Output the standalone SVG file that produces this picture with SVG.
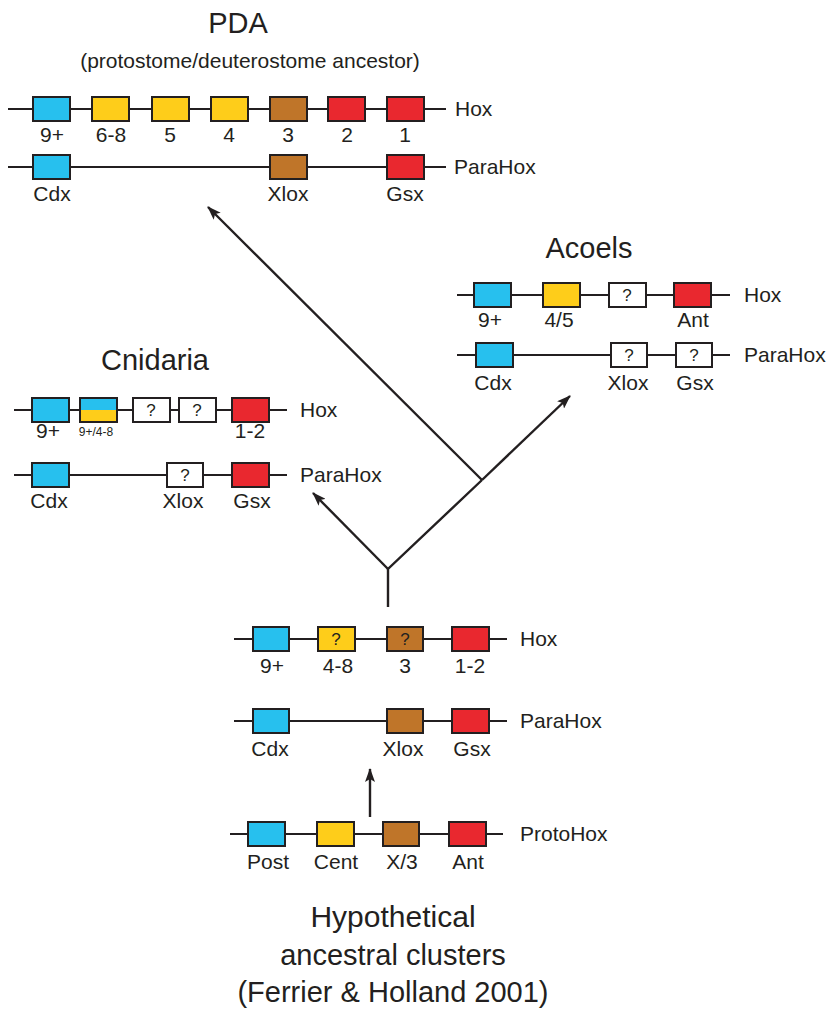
<svg xmlns="http://www.w3.org/2000/svg" width="827" height="1011" viewBox="0 0 827 1011">
<defs>
<style>
text{font-family:"Liberation Sans",Arial,sans-serif;fill:#231f20}
.t{font-size:29px;text-anchor:middle}
.s{font-size:21px;text-anchor:middle}
.l{font-size:21px;text-anchor:middle}
.n{font-size:21px}
.q{font-size:17px;text-anchor:middle}
.ln{stroke:#231f20;stroke-width:2;fill:none}
.bx{stroke:#231f20;stroke-width:2}
.b{fill:#27c0ee}.y{fill:#fecd1a}.o{fill:#bf7529}.r{fill:#e9282f}.w{fill:#fff}
.cn{stroke:#231f20;stroke-width:2.4;fill:none}
</style>
<marker id="ah" viewBox="0 0 14 10" refX="13" refY="5" markerWidth="14" markerHeight="10" markerUnits="userSpaceOnUse" orient="auto">
<path d="M0,0 L14,5 L0,10 L3,5 Z" fill="#231f20"/>
</marker>
<linearGradient id="by" x1="0" y1="0" x2="0" y2="1">
<stop offset="0.5" stop-color="#27c0ee"/><stop offset="0.5" stop-color="#fecd1a"/>
</linearGradient>
</defs>

<g id="pda">
<text class="t" x="238" y="33">PDA</text>
<text class="s" x="250" y="68">(protostome/deuterostome ancestor)</text>
<line class="ln" x1="8" y1="109" x2="446" y2="109"/>
<rect class="bx b" x="33" y="97" width="37" height="24"/>
<rect class="bx y" x="92" y="97" width="37" height="24"/>
<rect class="bx y" x="152" y="97" width="37" height="24"/>
<rect class="bx y" x="211" y="97" width="37" height="24"/>
<rect class="bx o" x="270" y="97" width="37" height="24"/>
<rect class="bx r" x="328" y="97" width="37" height="24"/>
<rect class="bx r" x="387" y="97" width="37" height="24"/>
<text class="l" x="52" y="142">9+</text>
<text class="l" x="111" y="142">6-8</text>
<text class="l" x="170" y="142">5</text>
<text class="l" x="229" y="142">4</text>
<text class="l" x="288" y="142">3</text>
<text class="l" x="347" y="142">2</text>
<text class="l" x="405" y="142">1</text>
<text class="n" x="455" y="116">Hox</text>
<line class="ln" x1="8" y1="167" x2="446" y2="167"/>
<rect class="bx b" x="33" y="155" width="37" height="24"/>
<rect class="bx o" x="270" y="155" width="37" height="24"/>
<rect class="bx r" x="387" y="155" width="37" height="24"/>
<text class="l" x="52" y="201">Cdx</text>
<text class="l" x="288" y="201">Xlox</text>
<text class="l" x="405" y="201">Gsx</text>
<text class="n" x="454" y="174">ParaHox</text>
</g>

<g id="acoels">
<text class="t" x="589" y="258">Acoels</text>
<line class="ln" x1="457" y1="295" x2="730" y2="295"/>
<rect class="bx b" x="474" y="283" width="37" height="24"/>
<rect class="bx y" x="543" y="283" width="37" height="24"/>
<rect class="bx w" x="609" y="283" width="37" height="24"/>
<rect class="bx r" x="674" y="283" width="37" height="24"/>
<text class="q" x="627" y="301">?</text>
<text class="l" x="490" y="327">9+</text>
<text class="l" x="559" y="327">4/5</text>
<text class="l" x="693" y="327">Ant</text>
<text class="n" x="744" y="302">Hox</text>
<line class="ln" x1="457" y1="355" x2="730" y2="355"/>
<rect class="bx b" x="476" y="343" width="37" height="24"/>
<rect class="bx w" x="611" y="343" width="36" height="24"/>
<rect class="bx w" x="676" y="343" width="36" height="24"/>
<text class="q" x="629" y="361">?</text>
<text class="q" x="694" y="361">?</text>
<text class="l" x="493" y="390">Cdx</text>
<text class="l" x="628" y="390">Xlox</text>
<text class="l" x="695" y="390">Gsx</text>
<text class="n" x="744" y="362">ParaHox</text>
</g>

<g id="cnidaria">
<text class="t" x="155" y="370">Cnidaria</text>
<line class="ln" x1="14" y1="410" x2="287" y2="410"/>
<rect class="bx b" x="32" y="398" width="37" height="24"/>
<rect class="bx" fill="url(#by)" x="80" y="398" width="37" height="24"/>
<rect class="bx w" x="133" y="398" width="37" height="24"/>
<rect class="bx w" x="179" y="398" width="37" height="24"/>
<rect class="bx r" x="232" y="398" width="37" height="24"/>
<text class="q" x="151" y="416">?</text>
<text class="q" x="197" y="416">?</text>
<text class="l" x="48" y="438">9+</text>
<text class="l" x="96" y="436" style="font-size:12px">9+/4-8</text>
<text class="l" x="250" y="438">1-2</text>
<text class="n" x="300" y="417">Hox</text>
<line class="ln" x1="14" y1="475" x2="287" y2="475"/>
<rect class="bx b" x="32" y="463" width="37" height="24"/>
<rect class="bx w" x="167" y="463" width="36" height="24"/>
<rect class="bx r" x="232" y="463" width="37" height="24"/>
<text class="q" x="185" y="481">?</text>
<text class="l" x="49" y="508">Cdx</text>
<text class="l" x="183" y="508">Xlox</text>
<text class="l" x="252" y="508">Gsx</text>
<text class="n" x="300" y="482">ParaHox</text>
</g>

<g id="ancestral">
<line class="ln" x1="234" y1="639" x2="507" y2="639"/>
<rect class="bx b" x="253" y="627" width="36" height="24"/>
<rect class="bx y" x="318" y="627" width="37" height="24"/>
<rect class="bx o" x="387" y="627" width="36" height="24"/>
<rect class="bx r" x="452" y="627" width="37" height="24"/>
<text class="q" x="336" y="645">?</text>
<text class="q" x="405" y="645">?</text>
<text class="l" x="272" y="673">9+</text>
<text class="l" x="338" y="673">4-8</text>
<text class="l" x="405" y="673">3</text>
<text class="l" x="470" y="673">1-2</text>
<text class="n" x="520" y="646">Hox</text>
<line class="ln" x1="234" y1="721" x2="507" y2="721"/>
<rect class="bx b" x="253" y="709" width="36" height="24"/>
<rect class="bx o" x="387" y="709" width="36" height="24"/>
<rect class="bx r" x="452" y="709" width="37" height="24"/>
<text class="l" x="270" y="756">Cdx</text>
<text class="l" x="403" y="756">Xlox</text>
<text class="l" x="472" y="756">Gsx</text>
<text class="n" x="520" y="728">ParaHox</text>
</g>

<g id="protohox">
<line class="ln" x1="230" y1="834" x2="503" y2="834"/>
<rect class="bx b" x="248" y="822" width="37" height="24"/>
<rect class="bx y" x="317" y="822" width="37" height="24"/>
<rect class="bx o" x="383" y="822" width="36" height="24"/>
<rect class="bx r" x="449" y="822" width="37" height="24"/>
<text class="l" x="268" y="869">Post</text>
<text class="l" x="336" y="869">Cent</text>
<text class="l" x="402" y="869">X/3</text>
<text class="l" x="468" y="869">Ant</text>
<text class="n" x="520" y="841">ProtoHox</text>
</g>

<g id="caption">
<text class="t" x="393" y="927" style="font-size:30px">Hypothetical</text>
<text class="t" x="393" y="965">ancestral clusters</text>
<text class="t" x="393" y="1002">(Ferrier &amp; Holland 2001)</text>
</g>

<g id="connectors">
<polyline class="cn" points="388,607 388,569 482,480"/>
<line class="cn" x1="388" y1="569" x2="313" y2="493" marker-end="url(#ah)"/>
<line class="cn" x1="482" y1="480" x2="208" y2="207" marker-end="url(#ah)"/>
<line class="cn" x1="482" y1="480" x2="570" y2="396" marker-end="url(#ah)"/>
<line class="cn" x1="370" y1="817" x2="370" y2="769" marker-end="url(#ah)"/>
</g>
</svg>
